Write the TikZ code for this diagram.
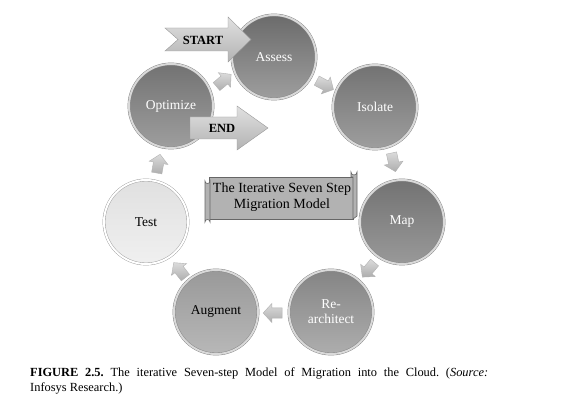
\documentclass[tikz,border=0pt]{standalone}
\usepackage{fontspec}
\setmainfont{Liberation Serif}
\usetikzlibrary{shapes.arrows,shadings}
\frenchspacing
\begin{document}
\begin{tikzpicture}[x=1pt,y=-1pt,
  stepcircle/.style={circle, minimum size=84pt, inner sep=0pt, draw=black!50,
    double=black!15, double distance=2pt, align=center,
    font=\fontsize{13.5}{15}\selectfont},
  darkstep/.style={stepcircle, top color=black!58, bottom color=black!38, text=white},
  flowarrow/.style={single arrow, draw=black!30, top color=black!14, bottom color=black!32,
    minimum height=19pt, minimum width=19pt, single arrow head extend=3.5pt,
    single arrow tip angle=95, inner sep=4pt},
  bigarrow/.style={draw=black!40, top color=black!12, bottom color=black!30},
  scroll/.style={draw=black!60, fill=black!30, line width=0.6pt},
  lbl/.style={font=\fontsize{12.5}{14}\selectfont\bfseries},
]
\useasboundingbox (0,0) rectangle (568,414);
\fill[white] (0,0) rectangle (568,414);

% circles
\node[darkstep] (assess) at (274,57) {Assess};
\node[darkstep, top color=black!55, bottom color=black!38] (isolate) at (375,107) {Isolate};
\node[darkstep, top color=black!55, bottom color=black!40] (map) at (402,222) {Map};
\node[darkstep, top color=black!48, bottom color=black!32] (rearch) at (331,312) {Re-\\architect};
\node[stepcircle, top color=black!40, bottom color=black!28, text=black] (augment) at (216,312) {Augment};
\node[stepcircle, top color=black!12, bottom color=black!6, draw=black!40, double=white, text=black] (test) at (146,222) {Test};
\node[darkstep, top color=black!55, bottom color=black!38] (optimize) at (171,106) {Optimize};

% small flow arrows
\node[flowarrow, rotate=40] (a1) at (222,82) {};
\node[flowarrow, rotate=-28] (a2) at (323,84) {};
\node[flowarrow, rotate=-78] (a3) at (393,160) {};
\node[flowarrow, rotate=-130] (a4) at (370,268) {};
\node[flowarrow, rotate=180] (a5) at (275,313) {};
\node[flowarrow, rotate=128] (a6) at (181,272) {};
\node[flowarrow, rotate=80] (a7) at (158,166) {};

% START arrow
\draw[bigarrow] (165,28) -- (228,28) -- (228,17) -- (251,39.5) -- (228,62)
  -- (228,51) -- (165,51) -- (178,39.5) -- cycle;
\node[lbl] (start) at (203,40) {START};

% END arrow
\draw[bigarrow] (190,117) -- (237,117) -- (237,106) -- (268,128) -- (237,150)
  -- (237,139) -- (190,139) -- cycle;
\node[lbl] (endl) at (222,128) {END};

% scroll banner
\draw[scroll] (209,177) -- (353,177) -- (353,219) -- (209,219) -- cycle;
\draw[scroll] (351,172) arc (180:0:3) -- (357,216) -- (353,219) -- (353,177) -- (351,177) -- cycle;
\draw[scroll] (205,181) arc (180:0:2.5) -- (210,222) arc (0:-180:2.5) -- cycle;
\node[font=\fontsize{14}{16.5}\selectfont, align=center] (title) at (282,197)
  {The Iterative Seven Step\\Migration Model};

% caption
\node[anchor=north west, text width=458pt, align=justify, inner sep=0pt,
  font=\fontsize{12.4}{14.5}\selectfont] (cap) at (30,368)
  {\textbf{FIGURE 2.5.} The iterative Seven-step Model of Migration into the Cloud. (\textit{Source:}\linebreak Infosys Research.)};
\end{tikzpicture}
\end{document}
